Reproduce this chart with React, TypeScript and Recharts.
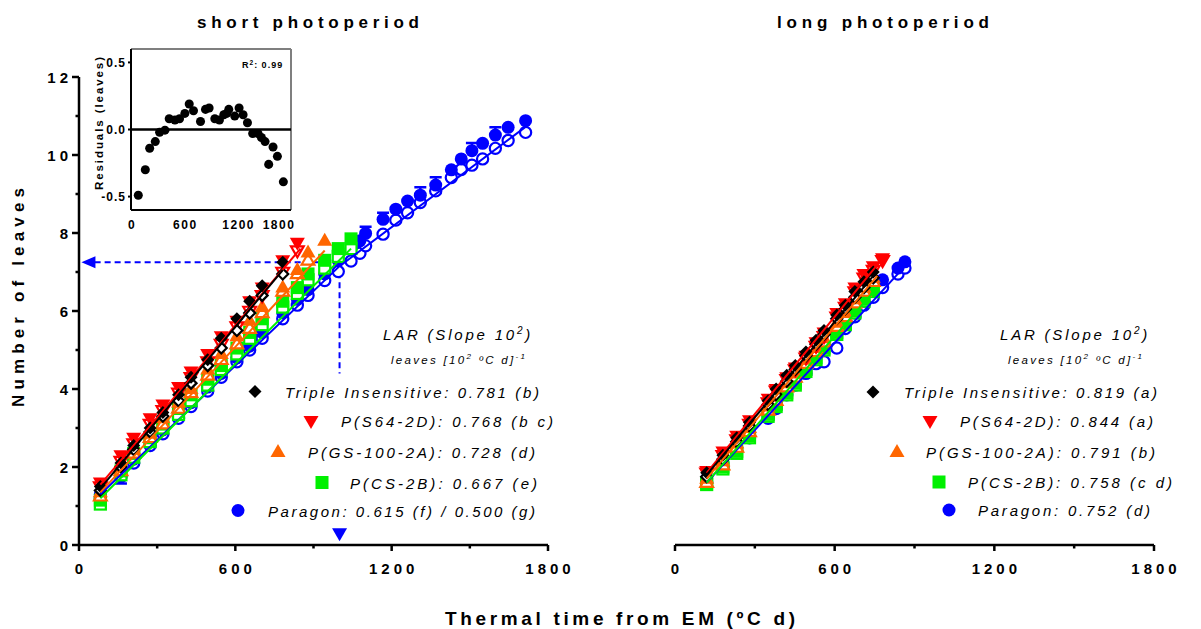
import { ComposedChart, Scatter, Line, XAxis, YAxis, ReferenceLine } from 'recharts';

const FF = '"Liberation Sans", Arial, Helvetica, sans-serif';
const BLACK = '#000000';
const RED = '#ff0000';
const ORANGE = '#ff6600';
const GREEN = '#00f000';
const BLUE = '#0000ff';

// thermal time of the samplings (ºC d)
const shortTimes = [82, 161, 210, 273, 322, 382, 430, 494, 546, 606, 655, 703, 782, 838, 879, 943, 995, 1044, 1078, 1100, 1167, 1216, 1261, 1310, 1369, 1429, 1467, 1508, 1549, 1598, 1647, 1714];
const longTimes = [119, 180, 232, 280, 350, 380, 420, 452, 492, 530, 560, 608, 640, 676, 710, 745, 780, 838, 864];

// short photoperiod, number of leaves (filled / open symbols)
const tiShortF = [1.5, 2.1, 2.55, 3.0, 3.4, 3.85, 4.3, 4.75, 5.3, 5.8, 6.25, 6.65, 7.25];
const tiShortO = [1.4, 2.0, 2.45, 2.9, 3.3, 3.7, 4.15, 4.6, 5.05, 5.5, 5.95, 6.4, 6.95];
const s64ShortF = [1.6, 2.3, 2.75, 3.25, 3.6, 4.05, 4.45, 4.9, 5.35, 5.75, 6.25, 6.6, 7.3, 7.75];
const s64ShortO = [1.5, 2.15, 2.6, 3.1, 3.45, 3.9, 4.3, 4.7, 5.15, 5.6, 6.0, 6.4, 7.0, 7.55];
const gsShortF = [1.35, 2.0, 2.45, 2.85, 3.25, 3.65, 4.0, 4.5, 4.9, 5.35, 5.75, 6.1, 6.6, 7.05, 7.5, 7.8];
const gsShortO = [1.25, 1.9, 2.35, 2.75, 3.1, 3.5, 3.9, 4.35, 4.75, 5.15, 5.55, 5.95, 6.5, 6.95, 7.3];
const csShortF = [1.15, 1.9, 2.35, 2.75, 3.1, 3.5, 3.85, 4.25, 4.6, 5.05, 5.45, 5.8, 6.25, 6.6, 6.95, 7.3, 7.6, 7.85];
const csShortO = [1.05, 1.8, 2.25, 2.65, 3.0, 3.35, 3.7, 4.1, 4.5, 4.9, 5.3, 5.65, 6.1, 6.45, 6.8, 7.1, 7.4, 7.6];
const parShortF = [1.3, 1.8, 2.2, 2.65, 2.95, 3.35, 3.65, 4.05, 4.4, 4.8, 5.1, 5.45, 5.95, 6.3, 6.55, 6.95, 7.3, 7.6, 7.8, 7.99, 8.35, 8.61, 8.82, 8.97, 9.23, 9.62, 9.9, 10.11, 10.3, 10.51, 10.71, 10.88];
const parShortO = [1.2, 1.75, 2.1, 2.55, 2.85, 3.25, 3.55, 3.95, 4.3, 4.7, 5.0, 5.3, 5.8, 6.15, 6.4, 6.78, 7.01, 7.28, 7.48, 7.67, 7.97, 8.33, 8.52, 8.78, 9.08, 9.42, 9.63, 9.74, 9.9, 10.17, 10.37, 10.58];
// standard errors that stick out of the Paragon symbols
const parErrUp = [0, 0, 0, 0, 0, 0, 0, 0, 0, 0, 0, 0, 0, 0, 0, 0, 0, 0, 0, 0.17, 0.17, 0, 0, 0.2, 0.2, 0, 0, 0.2, 0, 0.2, 0, 0];
const parErrDown = [0, 0.22, 0, 0, 0, 0, 0, 0, 0, 0, 0, 0, 0, 0, 0, 0, 0, 0, 0, 0, 0, 0, 0, 0, 0, 0, 0, 0, 0, 0, 0, 0];

// long photoperiod
const tiLongF = [1.85, 2.3, 2.75, 3.15, 3.7, 4.0, 4.35, 4.6, 4.95, 5.25, 5.5, 5.9, 6.15, 6.5, 6.75, 7.0];
const tiLongO = [1.75, 2.2, 2.65, 3.05, 3.6, 3.85, 4.2, 4.5, 4.85, 5.15, 5.4, 5.8, 6.05, 6.35, 6.6, 6.85];
const s64LongF = [1.9, 2.4, 2.8, 3.2, 3.75, 4.0, 4.3, 4.55, 4.85, 5.2, 5.45, 5.95, 6.2, 6.6, 6.95, 7.15, 7.35];
const s64LongO = [1.85, 2.3, 2.7, 3.1, 3.65, 3.95, 4.25, 4.5, 4.8, 5.1, 5.35, 5.85, 6.1, 6.5, 6.85, 7.05, 7.3];
const gsLongF = [1.7, 2.15, 2.6, 3.0, 3.55, 3.8, 4.15, 4.4, 4.75, 5.05, 5.3, 5.7, 5.95, 6.3, 6.6, 6.85];
const gsLongO = [1.6, 2.05, 2.5, 2.9, 3.45, 3.7, 4.05, 4.3, 4.65, 4.95, 5.2, 5.6, 5.85, 6.2, 6.5, 6.75];
const csLongF = [1.6, 2.0, 2.4, 2.8, 3.35, 3.6, 3.9, 4.15, 4.5, 4.8, 5.05, 5.45, 5.7, 6.0, 6.3, 6.55];
const csLongO = [1.55, 1.95, 2.35, 2.75, 3.3, 3.55, 3.85, 4.1, 4.45, 4.75, 5.0, 5.4, 5.65, 5.95, 6.25, 6.5];
const parLongF = [1.7, 2.1, 2.5, 2.85, 3.35, 3.6, 3.95, 4.2, 4.5, 4.8, 5.0, 5.4, 5.65, 5.95, 6.25, 6.5, 6.8, 7.1, 7.26];
const parLongO = [1.6, 2.0, 2.4, 2.75, 3.25, 3.5, 3.85, 4.1, 4.4, 4.65, 4.7, 5.05, 5.55, 5.85, 6.15, 6.35, 6.6, 6.95, 7.1];

// fitted lines (end points)
const fitShortX = { ti: [82, 782], s64: [82, 850], gs: [82, 943], cs: [82, 1044], par: [82, 1000, 1714] };
const fitShortY = { ti: [1.45, 7.05], s64: [1.55, 7.6], gs: [1.35, 7.55], cs: [1.2, 7.6], par: [1.3, 7.15, 10.72] };
const fitLongX = { ti: [119, 745], s64: [119, 780], gs: [119, 760], cs: [119, 760], par: [119, 864] };
const fitLongY = { ti: [1.8, 6.9], s64: [1.85, 7.35], gs: [1.7, 6.9], cs: [1.6, 6.6], par: [1.6, 7.15] };

// inset: residuals of the Paragon fit
const resX = [82, 161, 210, 273, 322, 382, 430, 494, 546, 606, 655, 703, 782, 838, 879, 943, 995, 1044, 1078, 1100, 1167, 1216, 1261, 1310, 1369, 1429, 1467, 1508, 1549, 1598, 1647, 1714];
const resY = [-0.49, -0.3, -0.14, -0.09, -0.02, -0.005, 0.08, 0.07, 0.08, 0.12, 0.19, 0.14, 0.06, 0.15, 0.16, 0.08, 0.07, 0.11, 0.12, 0.15, 0.1, 0.16, 0.11, 0.05, -0.03, -0.03, -0.06, -0.09, -0.26, -0.13, -0.2, -0.39];

// Paragon breakpoint arrow
const arrowX = 1000;
const arrowY = 7.25;

const xTicks = [0, 300, 600, 900, 1200, 1500, 1800];
const yTicks = [0, 1, 2, 3, 4, 5, 6, 7, 8, 9, 10, 11, 12];
const resXTicks = [0, 600, 1200, 1800];
const resYTicks = [-0.5, 0, 0.5];

const pts = (xs: number[], ys: number[]) => ys.map((y, i) => ({ x: xs[i], y }));
const errPts = (xs: number[], ys: number[], err: number[], sign: number) =>
  ys.map((y, i) => ({ x: xs[i], y: y + sign * err[i], e: err[i] })).filter((d) => d.e > 0);

type Kind = 'circle' | 'square' | 'up' | 'down' | 'diamond' | 'left' | 'capUp' | 'capDown';

const Mark = ({ cx, cy, kind, color, filled }: any) => {
  if (cx == null || cy == null) return null;
  const fill = filled ? color : '#ffffff';
  const sw = filled ? 0 : 2.2;
  const s = filled ? 1 : 0.85;
  switch (kind as Kind) {
    case 'circle':
      return <circle cx={cx} cy={cy} r={filled ? 6.5 : 5.6} fill={fill} stroke={color} strokeWidth={sw} />;
    case 'square': {
      const h = filled ? 6.5 : 5.5;
      return <rect x={cx - h} y={cy - h} width={2 * h} height={2 * h} fill={fill} stroke={color} strokeWidth={sw} />;
    }
    case 'up':
      return <polygon points={`${cx},${cy - 8 * s} ${cx + 7.5 * s},${cy + 5 * s} ${cx - 7.5 * s},${cy + 5 * s}`} fill={fill} stroke={color} strokeWidth={sw} />;
    case 'down':
      return <polygon points={`${cx - 7.5 * s},${cy - 5 * s} ${cx + 7.5 * s},${cy - 5 * s} ${cx},${cy + 8 * s}`} fill={fill} stroke={color} strokeWidth={sw} />;
    case 'diamond': {
      const h = filled ? 6.5 : 5.5;
      return <polygon points={`${cx},${cy - h} ${cx + h},${cy} ${cx},${cy + h} ${cx - h},${cy}`} fill={fill} stroke={color} strokeWidth={sw} />;
    }
    case 'left':
      return <polygon points={`${cx - 8},${cy} ${cx + 6},${cy - 6} ${cx + 6},${cy + 6}`} fill={color} />;
    case 'capUp':
      return <path d={`M${cx - 6},${cy} H${cx + 6} M${cx},${cy} V${cy + 8}`} stroke={color} strokeWidth={2.5} fill="none" />;
    case 'capDown':
      return <path d={`M${cx - 6},${cy} H${cx + 6} M${cx},${cy} V${cy - 8}`} stroke={color} strokeWidth={2.5} fill="none" />;
    default:
      return null;
  }
};

const shape = (kind: Kind, color: string, filled: boolean) => (p: any) => (
  <Mark cx={p.cx} cy={p.cy} kind={kind} color={color} filled={filled} />
);

const MainXTick = (p: any) => {
  const v = p.payload.value;
  const major = v % 600 === 0;
  return (
    <g>
      <line x1={p.x} x2={p.x} y1={p.y} y2={p.y + (major ? 6 : 3.5)} stroke="#000" strokeWidth={2.5} />
      {major && (
        <text x={p.x + 2} y={p.y + 29} textAnchor="middle" fontSize={15} fontWeight="bold" letterSpacing={4} fontFamily={FF} fill="#000">
          {v}
        </text>
      )}
    </g>
  );
};

const MainYTick = (p: any) => {
  const v = p.payload.value;
  const major = v % 2 === 0;
  return (
    <g>
      <line x1={p.x - (major ? 7 : 3.5)} x2={p.x} y1={p.y} y2={p.y} stroke="#000" strokeWidth={2.5} />
      {major && (
        <text x={p.x - 7} y={p.y + 5.5} textAnchor="end" fontSize={15} fontWeight="bold" letterSpacing={4} fontFamily={FF} fill="#000">
          {v}
        </text>
      )}
    </g>
  );
};

const ResXTick = (p: any) => {
  const v = p.payload.value;
  return (
    <text x={v === 1800 ? p.x - 12 : p.x + 1} y={p.y + 18.5} textAnchor="middle" fontSize={12} fontWeight="bold" letterSpacing={1.5} fontFamily={FF} fill="#000">
      {v}
    </text>
  );
};

const ResYTick = (p: any) => {
  const v = p.payload.value;
  return (
    <g>
      <line x1={p.x - 3} x2={p.x} y1={p.y} y2={p.y} stroke="#000" strokeWidth={2} />
      <text x={p.x - 5} y={p.y + 4.5} textAnchor="end" fontSize={12} fontWeight="bold" letterSpacing={1} fontFamily={FF} fill="#000">
        {v.toFixed(1)}
      </text>
    </g>
  );
};

const axisLine = { stroke: '#000', strokeWidth: 2.5 };

const fitPts = (xs: any, ys: any) => ({
  ti: pts(xs.ti, ys.ti),
  s64: pts(xs.s64, ys.s64),
  gs: pts(xs.gs, ys.gs),
  cs: pts(xs.cs, ys.cs),
  par: pts(xs.par, ys.par),
});

const shortData = {
  tiF: pts(shortTimes, tiShortF), tiO: pts(shortTimes, tiShortO),
  s64F: pts(shortTimes, s64ShortF), s64O: pts(shortTimes, s64ShortO),
  gsF: pts(shortTimes, gsShortF), gsO: pts(shortTimes, gsShortO),
  csF: pts(shortTimes, csShortF), csO: pts(shortTimes, csShortO),
  parF: pts(shortTimes, parShortF), parO: pts(shortTimes, parShortO),
};
const longData = {
  tiF: pts(longTimes, tiLongF), tiO: pts(longTimes, tiLongO),
  s64F: pts(longTimes, s64LongF), s64O: pts(longTimes, s64LongO),
  gsF: pts(longTimes, gsLongF), gsO: pts(longTimes, gsLongO),
  csF: pts(longTimes, csLongF), csO: pts(longTimes, csLongO),
  parF: pts(longTimes, parLongF), parO: pts(longTimes, parLongO),
};
const capsUp = errPts(shortTimes, parShortF, parErrUp, 1);
const capsDown = errPts(shortTimes, parShortF, parErrDown, -1);

// lines sit above the symbols, as in the original figure
const lineZ = 800;

const LeafChart = ({ left, width, margin, showY, data, fits, arrow }: any) => (
  <div style={{ position: 'absolute', left, top: 0 }}>
    <ComposedChart width={width} height={600} margin={margin}>
      <XAxis dataKey="x" type="number" domain={[0, 1800]} ticks={xTicks} interval={0} height={40} tickSize={0} tickMargin={0} tickLine={false} axisLine={axisLine} tick={<MainXTick />} />
      <YAxis dataKey="y" type="number" domain={[0, 12]} ticks={yTicks} interval={0} width={79} hide={!showY} tickSize={0} tickMargin={0} tickLine={false} axisLine={axisLine} tick={<MainYTick />} />
      {arrow && (
        <ReferenceLine segment={[{ x: 60, y: arrowY }, { x: arrowX, y: arrowY }]} stroke={BLUE} strokeWidth={2} strokeDasharray="6 4" />
      )}
      {arrow && (
        <ReferenceLine segment={[{ x: arrowX, y: arrowY }, { x: arrowX, y: 4.4 }]} stroke={BLUE} strokeWidth={2} strokeDasharray="6 4" />
      )}
      <Scatter data={data.parO} dataKey="y" shape={shape('circle', BLUE, false)} isAnimationActive={false} />
      {arrow && <Scatter data={capsUp} dataKey="y" shape={shape('capUp', BLUE, true)} isAnimationActive={false} />}
      {arrow && <Scatter data={capsDown} dataKey="y" shape={shape('capDown', BLUE, true)} isAnimationActive={false} />}
      <Scatter data={data.parF} dataKey="y" shape={shape('circle', BLUE, true)} isAnimationActive={false} />
      <Scatter data={data.csO} dataKey="y" shape={shape('square', GREEN, false)} isAnimationActive={false} />
      <Scatter data={data.csF} dataKey="y" shape={shape('square', GREEN, true)} isAnimationActive={false} />
      <Scatter data={data.gsO} dataKey="y" shape={shape('up', ORANGE, false)} isAnimationActive={false} />
      <Scatter data={data.gsF} dataKey="y" shape={shape('up', ORANGE, true)} isAnimationActive={false} />
      <Scatter data={data.s64O} dataKey="y" shape={shape('down', RED, false)} isAnimationActive={false} />
      <Scatter data={data.s64F} dataKey="y" shape={shape('down', RED, true)} isAnimationActive={false} />
      <Scatter data={data.tiO} dataKey="y" shape={shape('diamond', BLACK, false)} isAnimationActive={false} />
      <Scatter data={data.tiF} dataKey="y" shape={shape('diamond', BLACK, true)} isAnimationActive={false} />
      <Line data={fits.par} dataKey="y" stroke={BLUE} strokeWidth={2} dot={false} zIndex={lineZ} isAnimationActive={false} />
      <Line data={fits.cs} dataKey="y" stroke={GREEN} strokeWidth={2} dot={false} zIndex={lineZ} isAnimationActive={false} />
      <Line data={fits.gs} dataKey="y" stroke={ORANGE} strokeWidth={2} dot={false} zIndex={lineZ} isAnimationActive={false} />
      <Line data={fits.s64} dataKey="y" stroke={RED} strokeWidth={2} dot={false} zIndex={lineZ} isAnimationActive={false} />
      <Line data={fits.ti} dataKey="y" stroke={BLACK} strokeWidth={2} dot={false} zIndex={lineZ} isAnimationActive={false} />
      {arrow && (
        <Scatter data={[{ x: 40, y: arrowY }]} dataKey="y" shape={shape('left', BLUE, true)} isAnimationActive={false} />
      )}
      {arrow && (
        <Scatter data={[{ x: arrowX, y: 0.3 }]} dataKey="y" shape={shape('down', BLUE, true)} isAnimationActive={false} />
      )}
    </ComposedChart>
  </div>
);

const T = ({ x, y, w, size = 15, children, italic = true, bold = false, anchor = 'start' }: any) => (
  <text x={x} y={y} textLength={w} lengthAdjust="spacing" fontSize={size} fontStyle={italic ? 'italic' : 'normal'} fontWeight={bold ? 'bold' : 'normal'} fontFamily={FF} textAnchor={anchor} fill="#000">
    {children}
  </text>
);

const Legend = ({ dx, rows }: any) => (
  <g>
    <text x={dx + 383} y={339.5} fontSize={15} fontStyle="italic" letterSpacing={2.8} fontFamily={FF} fill="#000">
      LAR (Slope 10<tspan dy={-6} fontSize={10}>2</tspan><tspan dy={6}>)</tspan>
    </text>
    <text x={dx + 391} y={364} fontSize={11.5} fontStyle="italic" letterSpacing={2.3} fontFamily={FF} fill="#000">
      leaves [10<tspan dy={-5} fontSize={8}>2</tspan><tspan dy={5}> ºC d]</tspan><tspan dy={-5} fontSize={8}>-1</tspan>
    </text>
    {rows.map((r: any, i: number) => (
      <g key={i}>
        <Mark cx={r.mx} cy={r.my} kind={r.kind} color={r.color} filled />
        <T x={r.tx} y={r.my + 6} w={r.w}>{r.label}</T>
      </g>
    ))}
  </g>
);

const leftRows = [
  { kind: 'diamond', color: BLACK, mx: 255, my: 391.5, tx: 285, w: 254, label: 'Triple Insensitive: 0.781 (b)' },
  { kind: 'down', color: RED, mx: 311, my: 421, tx: 341, w: 212, label: 'P(S64-2D): 0.768 (b c)' },
  { kind: 'up', color: ORANGE, mx: 278, my: 452, tx: 308, w: 227, label: 'P(GS-100-2A): 0.728 (d)' },
  { kind: 'square', color: GREEN, mx: 322, my: 482.5, tx: 350, w: 187, label: 'P(CS-2B): 0.667 (e)' },
  { kind: 'circle', color: BLUE, mx: 238, my: 510.5, tx: 268, w: 267, label: 'Paragon: 0.615 (f) / 0.500 (g)' },
];
const rightRows = [
  { kind: 'diamond', color: BLACK, mx: 873, my: 392, tx: 904, w: 253, label: 'Triple Insensitive: 0.819 (a)' },
  { kind: 'down', color: RED, mx: 930, my: 421, tx: 960, w: 193, label: 'P(S64-2D): 0.844 (a)' },
  { kind: 'up', color: ORANGE, mx: 897, my: 452, tx: 926, w: 229, label: 'P(GS-100-2A): 0.791 (b)' },
  { kind: 'square', color: GREEN, mx: 939, my: 482, tx: 968, w: 204, label: 'P(CS-2B): 0.758 (c d)' },
  { kind: 'circle', color: BLUE, mx: 949, my: 510, tx: 978, w: 172, label: 'Paragon: 0.752 (d)' },
];

export default function App() {
  const resData = pts(resX, resY);
  return (
    <div style={{ position: 'absolute', left: 0, top: 0, width: 1201, height: 629, background: '#fff', overflow: 'hidden' }}>
      <LeafChart left={0} width={580} margin={{ top: 77, right: 32, bottom: 15, left: 0 }} showY data={shortData} fits={fitPts(fitShortX, fitShortY)} arrow />
      <LeafChart left={600} width={600} margin={{ top: 77, right: 46, bottom: 15, left: 75 }} showY={false} data={longData} fits={fitPts(fitLongX, fitLongY)} arrow={false} />
      <div style={{ position: 'absolute', left: 60, top: 30 }}>
        <ComposedChart width={250} height={220} margin={{ top: 19, right: 19, bottom: 15, left: 0 }}>
          <XAxis dataKey="x" type="number" domain={[0, 1800]} ticks={resXTicks} interval={0} height={25} tickSize={0} tickMargin={0} tickLine={false} axisLine={{ stroke: '#000', strokeWidth: 2 }} tick={<ResXTick />} />
          <YAxis dataKey="y" type="number" domain={[-0.6, 0.6]} ticks={resYTicks} interval={0} width={71} tickSize={0} tickMargin={0} tickLine={false} axisLine={{ stroke: '#000', strokeWidth: 2 }} tick={<ResYTick />} />
          <ReferenceLine y={0.6} stroke="#7f7f7f" strokeWidth={2} />
          <ReferenceLine x={1800} stroke="#7f7f7f" strokeWidth={2} />
          <ReferenceLine y={0} stroke="#000" strokeWidth={2.5} />
          <Scatter data={resData} dataKey="y" fill="#000" shape="circle" isAnimationActive={false} />
        </ComposedChart>
      </div>
      <svg width={1201} height={629} style={{ position: 'absolute', left: 0, top: 0, pointerEvents: 'none' }}>
        <T x={197} y={28} w={222} size={17} italic={false} bold>short photoperiod</T>
        <T x={777} y={28} w={212} size={17} italic={false} bold>long photoperiod</T>
        <g transform="translate(24, 297.5) rotate(-90)">
          <T x={0} y={0} w={219} size={17} italic={false} bold anchor="middle">Number of leaves</T>
        </g>
        <T x={445} y={625} w={350} size={19} italic={false} bold>Thermal time from EM (ºC d)</T>
        <g transform="translate(103, 123.5) rotate(-90)">
          <T x={0} y={0} w={133} size={11.5} italic={false} bold anchor="middle">Residuals (leaves)</T>
        </g>
        <text x={242} y={68} fontSize={9} fontWeight="bold" letterSpacing={1} fontFamily={FF} fill="#000">
          R<tspan dy={-3.5} fontSize={6.5}>2</tspan><tspan dy={3.5}>: 0.99</tspan>
        </text>
        <Legend dx={0} rows={leftRows} />
        <Legend dx={617} rows={rightRows} />
      </svg>
    </div>
  );
}
